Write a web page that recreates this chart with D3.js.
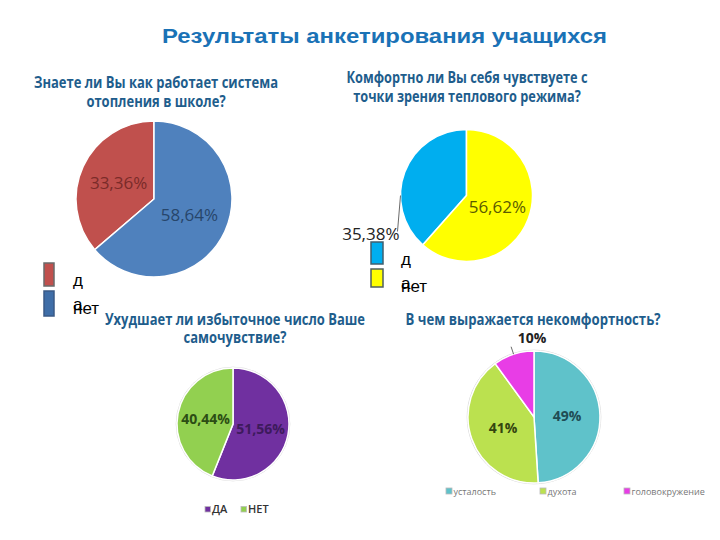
<!DOCTYPE html>
<html><head><meta charset="utf-8">
<script src="https://cdn.jsdelivr.net/npm/d3@7"></script>
<style>body{margin:0;background:#fff}svg{display:block}</style>
</head><body>
<svg id="c" width="720" height="540"></svg>
<script>
// ---------- data ----------
const mainTitle = "Результаты анкетирования учащихся";

const q1Title = ["Знаете ли Вы как работает система", "отопления в школе?"];
const q1Labels = ["да", "нет"];
const q1Values = [33.36, 58.64];

const q2Title = ["Комфортно ли Вы себя чувствуете с", "точки зрения теплового режима?"];
const q2Labels = ["да", "нет"];
const q2Values = [35.38, 56.62];

const q3Title = ["Ухудшает ли избыточное число Ваше", "самочувствие?"];
const q3Labels = ["ДА", "НЕТ"];
const q3Values = [51.56, 40.44];

const q4Title = ["В чем выражается некомфортность?"];
const q4Labels = ["усталость", "духота", "головокружение"];
const q4Values = [49, 41, 10];

// ---------- helpers ----------
const svg = d3.select("#c");
const fmt2 = v => d3.format(".2f")(v).replace(".", ",") + "%";
const fmt0 = v => d3.format(".0f")(v) + "%";

function title(lines, cx, baselines, targetW, size, color, family) {
  const g = svg.append("g");
  const ts = lines.map((s, i) => g.append("text")
    .attr("x", cx).attr("y", baselines[i])
    .attr("text-anchor", "middle")
    .attr("font-family", family).attr("font-weight", "bold")
    .attr("font-size", size).attr("fill", color).text(s));
  const w0 = ts[0].node().getComputedTextLength();
  const k = targetW / w0;
  ts.forEach(t => {
    const w = t.node().getComputedTextLength();
    t.attr("textLength", w * k).attr("lengthAdjust", "spacingAndGlyphs");
  });
}

function drawPie(cfg) {
  const total = d3.sum(cfg.values);
  const frac0 = cfg.values[0] / total;
  const start = cfg.firstEndsAtTop ? -frac0 * 2 * Math.PI : 0;
  const pie = d3.pie().sort(null).startAngle(start).endAngle(start + 2 * Math.PI);
  const arcs = pie(cfg.values);
  const arc = d3.arc().innerRadius(0).outerRadius(cfg.r);
  const lab = d3.arc().innerRadius(0).outerRadius(cfg.r);
  const g = svg.append("g").attr("transform", `translate(${cfg.cx},${cfg.cy})`);
  if (cfg.outline) {
    g.append("circle").attr("r", cfg.r + 0.8).attr("fill", "none").attr("stroke", "#d9d9d9").attr("stroke-width", 1);
  }
  g.selectAll("path.s").data(arcs).join("path")
    .attr("class", "s")
    .attr("d", arc)
    .attr("fill", (d, i) => cfg.colors[i])
    .attr("stroke", "#fff").attr("stroke-width", 1.5);
  arcs.forEach((d, i) => {
    const ext = cfg.outside && cfg.outside[i];
    if (ext) {
      // leader line + outside label
      const a = ext.angle != null ? ext.angle : (d.startAngle + d.endAngle) / 2;
      const p0 = [Math.sin(a) * cfg.r, -Math.cos(a) * cfg.r];
      const p1 = [p0[0] + ext.lx, p0[1] + ext.ly];
      g.append("line").attr("x1", p0[0]).attr("y1", p0[1]).attr("x2", p1[0]).attr("y2", p1[1])
        .attr("stroke", "#444").attr("stroke-width", 0.8);
      g.append("text").attr("x", p1[0] + ext.tx).attr("y", p1[1] + ext.ty)
        .attr("text-anchor", ext.anchor)
        .attr("font-family", cfg.labelFamily).attr("font-weight", cfg.labelWeight)
        .attr("font-size", cfg.labelSize).attr("fill", ext.color)
        .text(cfg.fmt(cfg.values[i]));
    } else {
      const c = lab.centroid(d);
      g.append("text").attr("x", c[0]).attr("y", c[1])
        .attr("dy", "0.35em")
        .attr("text-anchor", "middle")
        .attr("font-family", cfg.labelFamily).attr("font-weight", cfg.labelWeight)
        .attr("font-size", cfg.labelSize).attr("fill", cfg.labelColors[i])
        .text(cfg.fmt(cfg.values[i]));
    }
  });
}

// big-box legend (pies 1 and 2) – narrow text box makes "да" wrap
function boxLegend(labels, colors, strokes, x, y, w, hs, step, textX) {
  const g = svg.append("g");
  labels.forEach((l, i) => {
    const top = y + i * step;
    g.append("rect").attr("x", x).attr("y", top).attr("width", w).attr("height", hs[i])
      .attr("fill", colors[i]).attr("stroke", strokes[i]).attr("stroke-width", 1.5);
    const t = g.append("text").attr("x", textX).attr("y", top + 23)
      .attr("font-family", "Liberation Sans, Arial, sans-serif")
      .attr("font-size", 17).attr("fill", "#000");
    if (l.length === 2 && i === 0) {
      t.append("tspan").attr("x", textX).text(l[0]);
      t.append("tspan").attr("x", textX).attr("dy", 24).text(l[1]);
    } else {
      t.text(l);
    }
  });
}

function smallLegend(labels, colors, xs, y, sq, size, color, weight) {
  const g = svg.append("g");
  labels.forEach((l, i) => {
    g.append("rect").attr("x", xs[i]).attr("y", y - sq).attr("width", sq).attr("height", sq)
      .attr("fill", colors[i]).attr("stroke", "#bbb").attr("stroke-width", 0.8);
    g.append("text").attr("x", xs[i] + sq + 1.5).attr("y", y + 0.5)
      .attr("font-family", "Open Sans, sans-serif").attr("font-weight", weight)
      .attr("font-size", size).attr("fill", color).text(l);
  });
}

// ---------- main title ----------
title([mainTitle], 384.5, [43], 445, 21, "#1a72b6", "Liberation Sans, Arial, sans-serif");

// ---------- chart 1 ----------
const subColor = "#1e5d8c";
const subFont = "Open Sans, sans-serif";
title(q1Title, 156, [88, 107], 244, 15.5, subColor, subFont);
drawPie({cx: 154, cy: 199, r: 78, values: q1Values, firstEndsAtTop: true,
  colors: ["#c0504d", "#4f81bd"], labelColors: ["#7a2b29", "#27466b"],
  fmt: fmt2, labelFamily: "Open Sans, sans-serif", labelWeight: "normal", labelSize: 17});
boxLegend(q1Labels, ["#c0504d", "#3f6ea8"], ["#6a6a6a", "#3a5a86"], 44, 263, 10, [23, 25], 28, 73);

// ---------- chart 2 ----------
title(q2Title, 467, [83, 102], 241, 15.5, subColor, subFont);
drawPie({cx: 466.5, cy: 195.5, r: 66, values: q2Values, firstEndsAtTop: true,
  colors: ["#00aeef", "#ffff00"], labelColors: ["#1a1a1a", "#5b5b00"],
  fmt: fmt2, labelFamily: "Open Sans, sans-serif", labelWeight: "normal", labelSize: 17,
  outside: [{angle: -Math.PI / 2, lx: -3, ly: 36, tx: 2, ty: 8, anchor: "end", color: "#222"}, null]});
boxLegend(q2Labels, ["#00aeef", "#ffff00"], ["#3f5f6f", "#4f5f5f"], 371, 242, 12, [22, 18], 27, 401);

// ---------- chart 3 ----------
title(q3Title, 235, [325, 343], 260, 15.5, subColor, subFont);
drawPie({cx: 233, cy: 424, r: 56, values: q3Values, firstEndsAtTop: false, outline: true,
  colors: ["#7030a0", "#92d050"], labelColors: ["#3d1a5c", "#2c4d14"],
  fmt: fmt2, labelFamily: "Open Sans, sans-serif", labelWeight: "bold", labelSize: 14});
smallLegend(q3Labels, ["#7030a0", "#92d050"], [205, 241], 512, 5.5, 11, "#333", "600");

// ---------- chart 4 ----------
title(q4Title, 533, [325], 255, 15.5, subColor, subFont);
drawPie({cx: 534, cy: 417, r: 66, values: q4Values, firstEndsAtTop: false, outline: true,
  colors: ["#5fc2ca", "#bbe14f", "#e83de6"], labelColors: ["#1f4d55", "#34450f", "#222"],
  fmt: fmt0, labelFamily: "Open Sans, sans-serif", labelWeight: "bold", labelSize: 14,
  outside: [null, null, {lx: -2.5, ly: -7.5, tx: 21, ty: -4, anchor: "middle", color: "#222"}]});
smallLegend(q4Labels, ["#5fc2ca", "#bbe14f", "#e83de6"], [446, 540, 624], 494, 6, 9, "#777", "normal");
</script>
</body></html>
